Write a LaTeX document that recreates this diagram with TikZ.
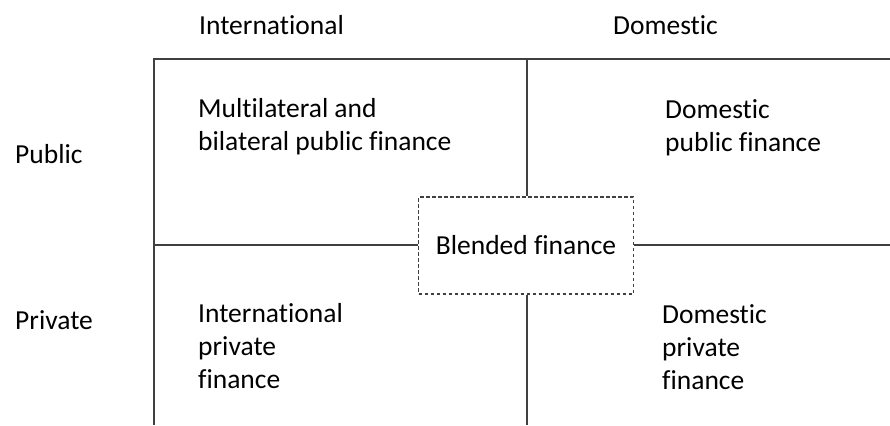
\documentclass[tikz,border=0pt]{standalone}
\usepackage{fontspec}
\setmainfont[Ligatures={NoCommon}]{Carlito}
\begin{document}
\begin{tikzpicture}[x=1pt,y=-1pt,
  lbl/.style={font=\fontsize{27.5}{33}\selectfont, inner sep=0pt, anchor=base west, align=left},
  grid/.style={draw=black!75, line width=1.2pt},
  blend/.style={draw=black!75, line width=1.1pt, dash pattern=on 3.5pt off 2.5pt,
    minimum width=215pt, minimum height=97pt, inner sep=0pt,
    font=\fontsize{27.5}{33}\selectfont}]
  \useasboundingbox (0,0) rectangle (890,425);

  % frame corners and free ends of the quadrant lines
  \coordinate (tl) at (154,59);
  \coordinate (tr) at (890,59);
  \coordinate (bl) at (154,425);
  \coordinate (tm) at (527,59);
  \coordinate (bm) at (527,425);
  \coordinate (ml) at (154,245);
  \coordinate (mr) at (890,245);

  % centre box
  \node[blend] (blended) at (526,245.5) {Blended finance};

  % quadrant lines
  \draw[grid] (tr) -- (tl) -- (bl);
  \draw[grid] (tm) -- (blended.north -| tm);
  \draw[grid] (blended.south -| bm) -- (bm);
  \draw[grid] (ml) -- (blended.west |- ml);
  \draw[grid] (blended.east |- mr) -- (mr);

  % column and row headings
  \node[lbl] (intl) at (199,35) {International};
  \node[lbl] (dom) at (613,35) {Domestic};
  \node[lbl] (pub) at (15,163) {Public};
  \node[lbl] (priv) at (15,329) {Private};

  % quadrant contents (anchored at the baseline of the last line)
  \node[lbl] (q1) at (198,150) {Multilateral and\\bilateral public finance};
  \node[lbl] (q2) at (665,151) {Domestic\\public finance};
  \node[lbl] (q3) at (198,388) {International\\private\\finance};
  \node[lbl] (q4) at (662,389) {Domestic\\private\\finance};
\end{tikzpicture}
\end{document}
